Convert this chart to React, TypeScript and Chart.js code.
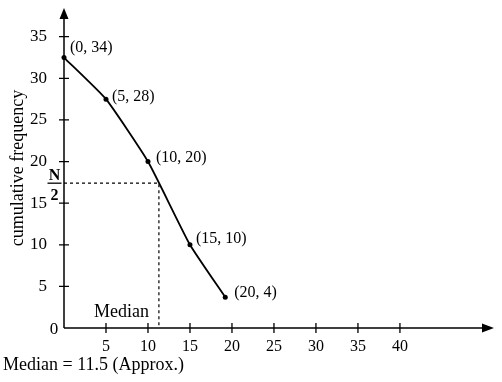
import { useEffect, useRef } from 'react';
import { Chart, registerables } from 'chart.js';

Chart.register(...registerables);

// ---- data ----
const xValues = [0, 5, 10, 15, 19.2];
const cumFreq = [32.5, 27.5, 20, 10, 3.7];
const pointLabels = ['(0, 34)', '(5, 28)', '(10, 20)', '(15, 10)', '(20, 4)'];
const xTicks = [5, 10, 15, 20, 25, 30, 35, 40];
const yTicks = [5, 10, 15, 20, 25, 30, 35];
const halfN = 17.4;
const medianX = 11.3;
const medianLabel = 'Median';
const medianNote = 'Median = 11.5 (Approx.)';
const yTitle = 'cumulative frequency';

const FONT = '"Liberation Serif", "Times New Roman", serif';

const labelDx = [6, 6, 8, 6, 9];
const labelDy = [-10, -2, -4, -6, -4];

const overlay = {
  id: 'overlay',
  afterDraw(chart: any) {
    const ctx = chart.ctx as CanvasRenderingContext2D;
    const xs = chart.scales.x;
    const ys = chart.scales.y;
    const x0 = xs.getPixelForValue(0);
    const y0 = ys.getPixelForValue(0);
    const xEnd = xs.getPixelForValue(xs.max);
    const yEnd = ys.getPixelForValue(ys.max);
    ctx.save();
    ctx.strokeStyle = '#000';
    ctx.fillStyle = '#000';
    // axes
    ctx.lineWidth = 1.5;
    ctx.beginPath();
    ctx.moveTo(x0, y0);
    ctx.lineTo(xEnd - 8, y0);
    ctx.moveTo(x0, y0);
    ctx.lineTo(x0, yEnd + 8);
    ctx.stroke();
    // arrows
    ctx.beginPath();
    ctx.moveTo(xEnd, y0);
    ctx.lineTo(xEnd - 12, y0 - 4.5);
    ctx.lineTo(xEnd - 12, y0 + 4.5);
    ctx.closePath();
    ctx.fill();
    ctx.beginPath();
    ctx.moveTo(x0, yEnd);
    ctx.lineTo(x0 - 4.5, yEnd + 11);
    ctx.lineTo(x0 + 4.5, yEnd + 11);
    ctx.closePath();
    ctx.fill();
    // tick marks crossing the axes
    ctx.lineWidth = 1.3;
    ctx.beginPath();
    xTicks.forEach((v) => {
      const px = xs.getPixelForValue(v);
      ctx.moveTo(px, y0 - 5);
      ctx.lineTo(px, y0 + 5);
    });
    yTicks.forEach((v) => {
      const py = ys.getPixelForValue(v);
      ctx.moveTo(x0 - 5, py);
      ctx.lineTo(x0 + 5, py);
    });
    ctx.stroke();
    // dashed median guides
    const mx = xs.getPixelForValue(medianX);
    const my = ys.getPixelForValue(halfN);
    ctx.lineWidth = 1.2;
    ctx.setLineDash([3, 3]);
    ctx.beginPath();
    ctx.moveTo(x0, my);
    ctx.lineTo(mx, my);
    ctx.lineTo(mx, y0);
    ctx.stroke();
    ctx.setLineDash([]);
    // y zero label
    ctx.font = `17px ${FONT}`;
    ctx.textAlign = 'center';
    ctx.textBaseline = 'middle';
    ctx.fillText('0', x0 - 10, y0 + 2);
    // point labels
    ctx.font = `16px ${FONT}`;
    ctx.textAlign = 'left';
    ctx.textBaseline = 'middle';
    xValues.forEach((v, i) => {
      const px = xs.getPixelForValue(v);
      const py = ys.getPixelForValue(cumFreq[i]);
      ctx.fillText(pointLabels[i], px + labelDx[i], py + labelDy[i]);
    });
    // N/2 fraction
    ctx.font = `bold 16px ${FONT}`;
    ctx.textAlign = 'center';
    ctx.textBaseline = 'alphabetic';
    const fx = x0 - 9.5;
    ctx.fillText('N', fx, my - 3);
    ctx.fillText('2', fx, my + 17);
    ctx.lineWidth = 1.3;
    ctx.beginPath();
    ctx.moveTo(fx - 7, my);
    ctx.lineTo(fx + 7, my);
    ctx.stroke();
    // Median label
    ctx.font = `18px ${FONT}`;
    ctx.textAlign = 'right';
    ctx.textBaseline = 'alphabetic';
    ctx.fillText(medianLabel, mx - 10, y0 - 11);
    // bottom note
    ctx.textAlign = 'left';
    ctx.fillText(medianNote, 3, y0 + 42);
    ctx.restore();
  },
};

export default function App() {
  const ref = useRef<HTMLCanvasElement>(null);
  useEffect(() => {
    if (!ref.current) return;
    const chart = new Chart(ref.current, {
      type: 'scatter',
      data: {
        datasets: [
          {
            data: xValues.map((x, i) => ({ x, y: cumFreq[i] })),
            showLine: true,
            borderColor: '#000',
            backgroundColor: '#000',
            borderWidth: 1.8,
            pointRadius: 2.5,
            pointBorderWidth: 0,
            tension: 0.15,
            clip: false as any,
          },
        ],
      },
      options: {
        responsive: false,
        animation: false,
        layout: { padding: { left: 0, top: 8, right: 8, bottom: 0 } },
        plugins: { legend: { display: false }, tooltip: { enabled: false } },
        scales: {
          x: {
            type: 'linear',
            min: 0,
            max: 51.2,
            grid: { display: false, drawTicks: false },
            border: { display: false },
            afterBuildTicks: (s: any) => {
              s.ticks = xTicks.map((v) => ({ value: v }));
            },
            afterFit: (s: any) => {
              s.height = 54;
              s.paddingLeft = 0;
              s.paddingRight = 0;
            },
            ticks: {
              autoSkip: false,
              maxRotation: 0,
              padding: 9,
              color: '#000',
              font: { family: FONT, size: 16 },
            },
          },
          y: {
            type: 'linear',
            min: 0,
            max: 38.45,
            grid: { display: false, drawTicks: false },
            border: { display: false },
            afterBuildTicks: (s: any) => {
              s.ticks = yTicks.map((v) => ({ value: v }));
            },
            afterFit: (s: any) => {
              s.width = 64;
              s.paddingTop = 0;
              s.paddingBottom = 0;
            },
            title: {
              display: true,
              text: yTitle,
              color: '#000',
              font: { family: FONT, size: 18 },
              padding: { top: 7, bottom: 0 },
            },
            ticks: {
              autoSkip: false,
              padding: 17,
              color: '#000',
              font: { family: FONT, size: 17 },
            },
          },
        },
      },
      plugins: [overlay],
    });
    return () => chart.destroy();
  }, []);
  return (
    <div style={{ position: 'absolute', left: 0, top: 0, width: 502, height: 382, background: '#fff' }}>
      <canvas ref={ref} width={502} height={382} />
    </div>
  );
}
